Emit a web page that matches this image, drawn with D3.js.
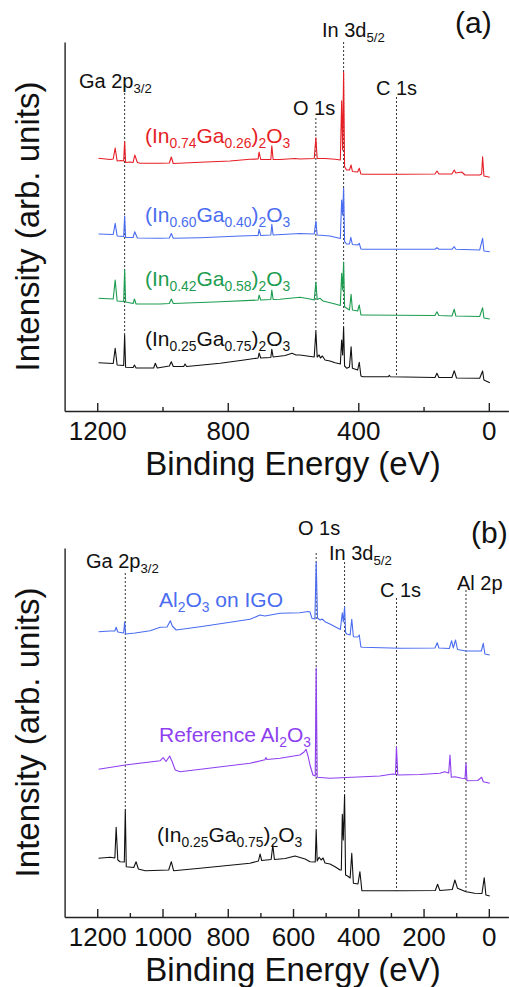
<!DOCTYPE html>
<html>
<head>
<meta charset="utf-8">
<script src="https://cdn.jsdelivr.net/npm/d3@7"></script>
<style>
  html, body { margin: 0; padding: 0; background: #fff; }
  svg { display: block; font-family: "Liberation Sans", Arial, sans-serif; }
  text { white-space: pre; }
</style>
</head>
<body>
<svg id="chart" width="509" height="987"></svg>
<script>
// ---------- data: XPS survey spectra, [binding energy (eV), intensity (arb. units, stacked)] ----------

// panel (a): (InxGa1-x)2O3 films
const ticksA = [1200, 800, 400, 0];
const minorTicksA = [1000, 600, 200];

const specIn74 = [
  [1196,252.7],[1160,251.5],[1151,252],[1145,263],[1139,250],[1127,250.5],[1119,250],[1116,269.3],[1113,248.5],
  [1099,249],[1090,248.5],[1085,256],[1077,248.5],[1068,247.7],[1007,247.7],[979,248],[973,254],[967,247.5],
  [885,248.7],[793,250],[732,251.7],[707,252],[704,259],[699,251.5],[668,251.5],[665,265.3],[661,251.5],
  [640,251.5],[594,252.5],[579,252],[535,252.5],[530,273.3],[526,252.5],[502,252.5],[471,251.7],
  [455,251],[451,310.3],[448,261],[445,339],[442,244.3],[436,241],[427,241],[422,246],[418,239.5],
  [402,239],[397,242.7],[392,237],[386,236.7],[272,236.7],[165,237],[159,240],[153,237],
  [113,237],[106,241],[101,238],[83,239],[73,236],[28,236],[22,237],[19,254.3],[15,235],[-3,233.7]
];

const specIn60 = [
  [1196,177],[1151,176.5],[1145,187.7],[1139,175],[1119,174.5],[1116,195],[1113,173.5],
  [1090,173.5],[1085,179.3],[1077,173],[1007,172.7],[979,173],[973,177.5],[967,172.7],
  [885,173.3],[762,175],[707,175.5],[704,181.7],[699,175.5],[668,176],[665,186.7],[661,176],
  [579,177.5],[535,177],[530,190],[526,176],[487,175],
  [455,172.5],[451,211],[448,196],[445,222.7],[442,169.3],[436,167],[427,167],[423,173.7],[418,166.5],
  [402,166],[397,167.7],[392,162],[386,161.7],[165,161.7],[159,163.3],[153,161.7],
  [113,161.7],[106,164.3],[101,161.7],[28,161],[19,172.7],[15,160],[-3,159.3]
];

const specIn42 = [
  [1196,112.7],[1151,112],[1145,131],[1139,110],[1119,109.5],[1116,141],[1113,109],
  [1090,107.5],[1086,112],[1081,107],[1007,107],[979,107.5],[973,112],[967,107.5],[946,107.7],
  [823,109.3],[707,111],[704,116],[699,111],[668,111.5],[665,121],[661,111.5],[640,111.7],
  [579,113.7],[548,112],[535,111],[530,129],[526,111.5],[517,112.7],[508,110],[471,107],
  [455,105.5],[451,137.7],[448,121],[445,149],[442,104.3],[427,101],[422,116.7],[418,101],
  [402,100],[397,106],[392,96],[386,96],[165,95.5],[159,99.3],[153,95.5],
  [113,95],[106,101.7],[101,95],[28,94.5],[19,103.3],[15,93],[-3,92]
];

const specIn25 = [
  [1196,48.3],[1151,47.5],[1145,62.7],[1139,46],[1119,45.5],[1116,76],[1113,43.7],
  [1090,43.5],[1086,46],[1081,43],[1027,43],[1022,47.7],[1016,43],[979,45],[973,49.3],[967,44.5],
  [935,44.5],[931,47],[926,44.5],[823,47.7],[750,51],[707,53],[704,58],[699,53],[668,53.5],[665,61.7],[661,54],
  [624,55.5],[603,57.7],[591,56],[579,56],[535,54],[530,80],[526,54],[520,56],[516,53],[510,55],[502,51],
  [487,50],[471,48.3],[455,47],[451,71],[448,56],[445,83.7],[442,45],[435,42.7],
  [427,44],[422,64.3],[418,42.7],[402,41],[397,48.7],[392,35],[386,34.3],[308,34.3],[305,35.7],[302,34.3],
  [165,33.5],[159,37.7],[153,33.5],[113,33.5],[106,40.3],[99,33],[28,32.7],[19,40],[15,31],[-3,28.3]
];

// panel (b): Al2O3 on IGO compared with references
const ticksB = [1200, 1000, 800, 600, 400, 200, 0];
const minorTicksB = [1100, 900, 700, 500, 300, 100];

const specAlOnIGO = [
  [1196,285.3],[1160,286],[1146,286],[1142,289.7],[1137,285],[1119,284],[1116,295],[1113,283],
  [1084,284],[1038,286.3],[1007,289.7],[986,290],[976,296.3],[970,291],[958,287],
  [885,290.3],[808,294],[732,297.7],[701,302],[686,301],[640,303.7],[579,304.3],
  [554,305.5],[548,305],[542,298.7],[533,298],[529,355],[525,299],[517,297],[511,298],[502,295.3],
  [487,293],[471,290.3],[455,287.5],[449,304.3],[446,295],[442,310],[439,284.3],[435,283],
  [425,282],[420,297.7],[415,280.3],[402,280],[397,282],[392,270],[386,269.7],[272,268.7],
  [165,269],[158,274.3],[153,269],[121,268.5],[114,276.3],[109,269],[102,277],[96,267.5],
  [70,266],[23,266],[17,273.7],[12,263],[-3,262]
];

const specRefAl2O3 = [
  [1196,147.7],[1114,152],[1007,156.3],[998,159.3],[989,155.5],[978,161],[970,155],[961,147],[946,145.3],
  [732,153.7],[686,157.2],[683,159.5],[680,157.5],[640,158.7],[579,162],[566,165],[560,167.7],
  [554,161],[548,152],[539,142],[532,141],[529,249],[526,139.7],[487,138.7],[334,141],[294,143],
  [286,142.5],[283,170.3],[279,142],[211,142.5],[150,143.7],[135,145.3],[123,144],[119,162],[115,139.7],
  [104,140.3],[83,138.7],[73,138.5],[70,153.7],[67,136.3],[34,136.5],[22,139.7],[17,135.3],[-3,133.7]
];

const specIn25b = [
  [1196,58.7],[1160,59.7],[1146,59],[1142,89.7],[1137,57],[1130,55.3],[1117,55],[1114,107.7],[1111,50.3],
  [1088,49.5],[1081,55.3],[1074,48],[1053,46.3],[981,47],[973,55.3],[966,46.3],
  [885,48.7],[732,53.7],[706,56],[701,63],[696,56.5],[667,57.5],[662,72],[657,57.5],
  [624,58.5],[594,61],[563,58],[548,55.3],[532,55],[529,87],[526,56],[520,59.7],[514,57],[508,59],[502,54],
  [487,53],[471,50.3],[456,47],[452,47],[449,102.7],[446,77],[442,122],[439,42],[433,41],
  [425,39],[420,63.7],[415,33.7],[401,33],[395,45.3],[389,26.3],[383,26.3],[272,26.3],
  [164,26.5],[157,32.7],[150,26.5],[112,27.5],[104,37],[96,28.7],[70,25.3],[43,23.7],
  [21,23.5],[14,39.3],[9,22],[-3,21]
];

// core-level positions marked with dotted guides (eV)
const linesA = [1116, 530, 445, 283];
const linesB = [1114, 529, 442, 283, 70];

// ---------- drawing ----------
const svg = d3.select("#chart");
svg.append("rect").attr("width", 509).attr("height", 987).attr("fill", "#fff");

const x = d3.scaleLinear().domain([1300, -60]).range([64.6, 508.4]);

const colors = {
  red: "#e61e25", blue: "#4a6cf0", green: "#1c9c4f", black: "#111111", purple: "#8e3ff0"
};

// text with subscripts: parts = [[string, isSubscript], ...]
function rich(g, px, py, parts, size, color) {
  const t = g.append("text").attr("x", px).attr("y", py)
    .attr("font-size", size).attr("fill", color);
  let shift = 0;
  parts.forEach(([s, sub]) => {
    const target = sub ? size * 0.24 : 0;
    const ts = t.append("tspan").text(s).attr("dy", target - shift);
    if (sub) ts.attr("font-size", size * 0.66);
    shift = target;
  });
  return t;
}

// intensity of a spectrum at energy e (straight segments between points)
function valueAt(series, e) {
  for (let i = 0; i < series.length - 1; i++) {
    const [e0, v0] = series[i], [e1, v1] = series[i + 1];
    if (e <= e0 && e >= e1) return e0 === e1 ? Math.max(v0, v1) : v0 + (v1 - v0) * (e - e0) / (e1 - e0);
  }
  return series[series.length - 1][1];
}

function drawPanel(opt) {
  const g = svg.append("g");
  const y = d3.scaleLinear().domain([0, 369]).range([opt.bottom, opt.bottom - 369]);

  // axes
  const xAxis = g.append("g").attr("transform", `translate(0,${opt.bottom})`)
    .call(d3.axisBottom(x).tickValues(opt.ticks).tickFormat(d3.format("d")).tickSize(-8).tickSizeOuter(0));
  xAxis.select(".domain").attr("stroke", "#222").attr("stroke-width", 1.4);
  xAxis.selectAll(".tick line").attr("stroke", "#222").attr("stroke-width", 1.4);
  xAxis.selectAll(".tick text").attr("dy", null).attr("y", 29)
    .attr("font-size", 26).attr("fill", "#111")
    .attr("font-family", '"Liberation Sans", Arial, sans-serif');

  const xMinor = g.append("g").attr("transform", `translate(0,${opt.bottom})`)
    .call(d3.axisBottom(x).tickValues(opt.minor).tickFormat("").tickSize(-4).tickSizeOuter(0));
  xMinor.select(".domain").remove();
  xMinor.selectAll(".tick line").attr("stroke", "#222").attr("stroke-width", 1.4);

  const yAxis = g.append("g").attr("transform", `translate(${x(1300)},0)`)
    .call(d3.axisLeft(y).tickValues([]).tickSizeOuter(0));
  yAxis.select(".domain").attr("stroke", "#222").attr("stroke-width", 1.4);

  g.append("text").attr("x", 293).attr("y", opt.bottom + 64)
    .attr("text-anchor", "middle").attr("font-size", 33).attr("fill", "#111")
    .text("Binding Energy (eV)");
  g.append("text").attr("transform", `translate(39,${opt.bottom - 184.5}) rotate(-90)`)
    .attr("text-anchor", "middle").attr("font-size", 33).attr("fill", "#111")
    .text("Intensity (arb. units)");

  // dotted guides from label down to the lowest spectrum
  const lowest = opt.series[opt.series.length - 1].data;
  opt.guides.forEach((e, i) => {
    g.append("line")
      .attr("x1", x(e)).attr("x2", x(e))
      .attr("y1", opt.guideTops[i]).attr("y2", y(valueAt(lowest, e)))
      .attr("stroke", "#333").attr("stroke-width", 1).attr("stroke-dasharray", "2,2");
  });

  // spectra
  const line = d3.line().x(d => x(d[0])).y(d => y(d[1]));
  opt.series.forEach(s => {
    g.append("path").attr("d", line(s.data)).attr("fill", "none")
      .attr("stroke", s.color).attr("stroke-width", 1.1).attr("stroke-linejoin", "round");
  });

  // labels
  opt.series.forEach(s => rich(g, s.lx, s.ly, s.name, 21, s.color));
  opt.peakLabels.forEach(p => rich(g, p.lx, p.ly, p.name, 20, "#111"));
  g.append("text").attr("x", opt.tag[1]).attr("y", opt.tag[2])
    .attr("font-size", 30).attr("fill", "#111").text(opt.tag[0]);
}

const nameIGO = (a, b) => [["(In", 0], [a, 1], ["Ga", 0], [b, 1], [")", 0], ["2", 1], ["O", 0], ["3", 1]];

drawPanel({
  bottom: 411,
  ticks: ticksA, minor: minorTicksA,
  series: [
    { data: specIn74, color: colors.red, name: nameIGO("0.74", "0.26"), lx: 145, ly: 143 },
    { data: specIn60, color: colors.blue, name: nameIGO("0.60", "0.40"), lx: 145, ly: 222 },
    { data: specIn42, color: colors.green, name: nameIGO("0.42", "0.58"), lx: 145, ly: 286 },
    { data: specIn25, color: colors.black, name: nameIGO("0.25", "0.75"), lx: 145, ly: 346 }
  ],
  guides: linesA, guideTops: [93, 118, 42, 97],
  peakLabels: [
    { name: [["Ga 2p", 0], ["3/2", 1]], lx: 79, ly: 88 },
    { name: [["O 1s", 0]], lx: 293, ly: 115 },
    { name: [["In 3d", 0], ["5/2", 1]], lx: 322, ly: 37 },
    { name: [["C 1s", 0]], lx: 376, ly: 95 }
  ],
  tag: ["(a)", 455, 33]
});

drawPanel({
  bottom: 917,
  ticks: ticksB, minor: minorTicksB,
  series: [
    { data: specAlOnIGO, color: colors.blue, name: [["Al", 0], ["2", 1], ["O", 0], ["3", 1], [" on IGO", 0]], lx: 159, ly: 607 },
    { data: specRefAl2O3, color: colors.purple, name: [["Reference Al", 0], ["2", 1], ["O", 0], ["3", 1]], lx: 159, ly: 742 },
    { data: specIn25b, color: colors.black, name: nameIGO("0.25", "0.75"), lx: 157, ly: 842 }
  ],
  guides: linesB, guideTops: [573, 553, 562, 598, 590],
  peakLabels: [
    { name: [["Ga 2p", 0], ["3/2", 1]], lx: 86, ly: 568 },
    { name: [["O 1s", 0]], lx: 298, ly: 535 },
    { name: [["In 3d", 0], ["5/2", 1]], lx: 329, ly: 560 },
    { name: [["C 1s", 0]], lx: 380, ly: 597 },
    { name: [["Al 2p", 0]], lx: 457, ly: 590 }
  ],
  tag: ["(b)", 471, 543]
});
</script>
</body>
</html>
